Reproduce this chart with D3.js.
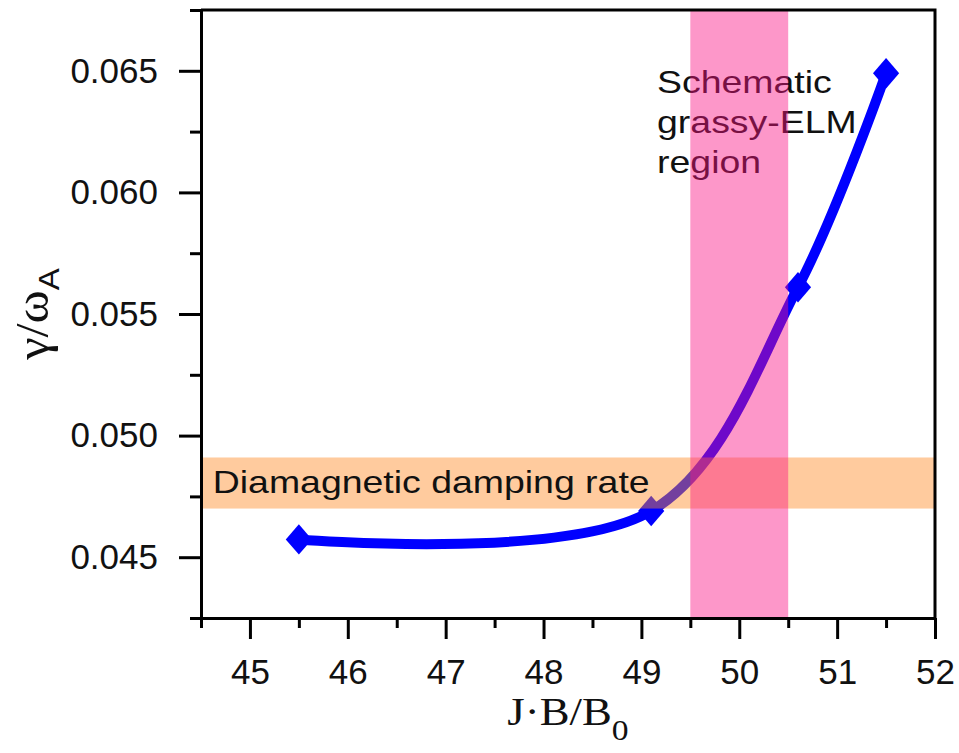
<!DOCTYPE html>
<html lang="en">
<head>
  <meta charset="UTF-8">
  <title>Growth rate vs J.B/B0</title>
  <style>
    body { margin: 0; background: #fff; }
    svg { display: block; }
    .tick text { font-family: "Liberation Sans", Arial, sans-serif; font-size: 35px; fill: #111; }
    .note { font-family: "Liberation Sans", Arial, sans-serif; font-size: 32px; fill: #111; }
  </style>
</head>
<body>
  <div id="chart"></div>
  <script src="https://d3js.org/d3.v7.min.js"></script>
  <script>
    // values
    const jb = [45.5, 49.1, 50.6, 51.5];
    const gamma = [0.04573, 0.0469, 0.0561, 0.0649];
    const xTicks = [45, 46, 47, 48, 49, 50, 51, 52];
    const yTicks = [0.045, 0.050, 0.055, 0.060, 0.065];
    const dampingBand = [0.0470, 0.0491];
    const elmBand = [49.5, 50.5];
    const elmText = ['Schematic', 'grassy-ELM', 'region'];

    const width = 959, height = 753;
    const margin = { top: 10, right: 24, bottom: 135, left: 201 };

    const svg = d3.select('#chart')
      .append('svg')
      .attr('width', width)
      .attr('height', height);

    const x = d3.scaleLinear().domain([44.5, 52]).range([margin.left, width - margin.right]);
    const y = d3.scaleLinear().domain([0.0425, 0.0675]).range([height - margin.bottom, margin.top]);

    const points = jb.map((v, i) => [v, gamma[i]]);

    // curve
    const line = d3.line()
      .x(d => x(d[0]))
      .y(d => y(d[1]))
      .curve(d3.curveCatmullRom.alpha(0.5));

    svg.append('path')
      .datum(points)
      .attr('d', line)
      .attr('fill', 'none')
      .attr('stroke', '#0000ff')
      .attr('stroke-width', 10)
      .attr('stroke-linejoin', 'round');

    svg.selectAll('.pt')
      .data(points)
      .enter()
      .append('path')
      .attr('class', 'pt')
      .attr('d', d3.symbol(d3.symbolSquare, 380))
      .attr('transform', d => `translate(${x(d[0])},${y(d[1])}) scale(0.95,1.1) rotate(45)`)
      .attr('fill', '#0000ff');

    // orange band sits over the curve, under its label
    svg.append('rect')
      .attr('x', x(44.5))
      .attr('width', x(52) - x(44.5))
      .attr('y', y(dampingBand[1]))
      .attr('height', y(dampingBand[0]) - y(dampingBand[1]))
      .attr('fill', 'rgb(255,140,40)')
      .attr('opacity', 0.45);

    svg.append('text')
      .attr('class', 'note')
      .attr('transform', `translate(${x(44.62)},${y(0.04765)}) scale(1.17,1)`)
      .text('Diamagnetic damping rate');

    svg.selectAll('.elm')
      .data(elmText)
      .enter()
      .append('text')
      .attr('class', 'note elm')
      .attr('transform', (d, i) => `translate(${x(49.16)},${y(0.06409) + i * 40}) scale(1.17,1)`)
      .text(d => d);

    // pink band on top of everything inside the frame
    svg.append('rect')
      .attr('x', x(elmBand[0]))
      .attr('width', x(elmBand[1]) - x(elmBand[0]))
      .attr('y', y(0.0675))
      .attr('height', y(0.0425) - y(0.0675))
      .attr('fill', 'rgb(250,18,132)')
      .attr('opacity', 0.44);

    // axes
    const minorX = d3.range(44.5, 52.01, 0.5).filter(v => !xTicks.includes(v));
    const minorY = d3.range(0, 11).map(i => 0.0425 + i * 0.0025).filter(v => !yTicks.some(t => Math.abs(t - v) < 1e-9));

    svg.append('g')
      .attr('transform', `translate(0,${y(0.0425)})`)
      .call(d3.axisBottom(x).tickValues(xTicks).tickFormat(d3.format('d')).tickSize(21).tickSizeOuter(0).tickPadding(20));
    svg.append('g')
      .attr('transform', `translate(0,${y(0.0425)})`)
      .call(d3.axisBottom(x).tickValues(minorX).tickFormat('').tickSize(10).tickSizeOuter(0));

    svg.append('g')
      .attr('transform', `translate(${x(44.5)},0)`)
      .call(d3.axisLeft(y).tickValues(yTicks).tickFormat(d3.format('.3f')).tickSize(22).tickSizeOuter(0).tickPadding(21));
    svg.append('g')
      .attr('transform', `translate(${x(44.5)},0)`)
      .call(d3.axisLeft(y).tickValues(minorY).tickFormat('').tickSize(11).tickSizeOuter(0));

    svg.selectAll('.domain, .tick line')
      .attr('stroke', '#000')
      .attr('stroke-width', 3);

    // top and right frame
    svg.append('path')
      .attr('d', `M${x(44.5)},${y(0.0675)}H${x(52)}V${y(0.0425)}`)
      .attr('fill', 'none')
      .attr('stroke', '#000')
      .attr('stroke-width', 3);

    // axis titles
    const xt = svg.append('text')
      .attr('transform', `translate(${(x(44.5) + x(52)) / 2},725) scale(1.12,1)`)
      .attr('text-anchor', 'middle')
      .style('font-family', '"Liberation Serif", "Times New Roman", serif')
      .style('font-size', '40px')
      .attr('fill', '#111');
    xt.append('tspan').text('J\u00b7B/B');
    xt.append('tspan').attr('dy', 15).style('font-size', '30px').text('0');

    const yt = svg.append('text')
      .attr('transform', `translate(48,${(y(0.0425) + y(0.0675)) / 2}) rotate(-90) scale(1.1,1)`)
      .attr('text-anchor', 'middle')
      .style('font-family', '"Liberation Serif", "Times New Roman", serif')
      .style('font-size', '46px')
      .attr('fill', '#111');
    yt.append('tspan').text('\u03b3/\u03c9');
    yt.append('tspan').attr('dy', 11)
      .style('font-family', '"Liberation Sans", Arial, sans-serif')
      .style('font-size', '30px').text('A');
  </script>
</body>
</html>
